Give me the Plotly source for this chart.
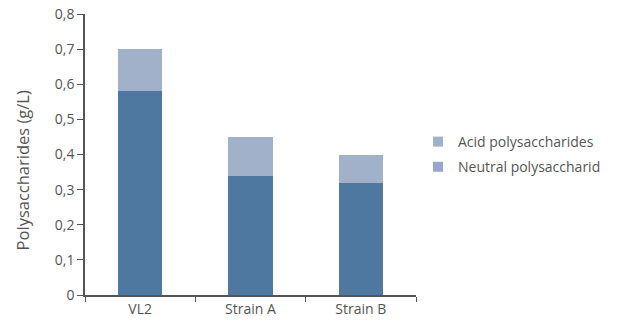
import plotly.graph_objects as go

categories = ["VL2", "Strain A", "Strain B"]
neutral = [0.58, 0.34, 0.32]
acid = [0.12, 0.11, 0.08]
series_names = ["Acid polysaccharides", "Neutral polysaccharid"]
y_title = "Polysaccharides (g/L)"

DARK = "#4e78a0"
LIGHT = "#a1b1c9"
LEG_NEUTRAL = "#9aa4d2"
FONT = "Open Sans"
TXT = "#555555"

fig = go.Figure()
fig.add_trace(go.Bar(x=categories, y=neutral, marker=dict(color=DARK, line=dict(width=0)),
                     width=0.4, showlegend=False))
fig.add_trace(go.Bar(x=categories, y=acid, marker=dict(color=LIGHT, line=dict(width=0)),
                     width=0.4, showlegend=False))
# legend entries
fig.add_trace(go.Scatter(x=[None], y=[None], mode="markers", name=series_names[0],
                         marker=dict(symbol="square", size=10, color=LIGHT), legendgroup="a"))
fig.add_trace(go.Scatter(x=[None], y=[None], mode="markers", name=series_names[1],
                         marker=dict(symbol="square", size=10, color=LEG_NEUTRAL), legendgroup="b"))

fig.update_layout(
    width=618, height=331,
    barmode="stack",
    separators=", ",
    paper_bgcolor="white", plot_bgcolor="white",
    margin=dict(l=85, r=189, t=14, b=36),
    font=dict(family=FONT, size=14, color=TXT),
    legend=dict(x=1.006, y=0.50, xanchor="left", yanchor="middle",
                traceorder="grouped", tracegroupgap=4,
                font=dict(size=14, color=TXT), itemwidth=30),
    annotations=[dict(text=y_title, textangle=-90, xref="paper", yref="paper",
                      x=-0.186, y=0.445, xanchor="center", yanchor="middle",
                      showarrow=False, font=dict(size=16.5, color=TXT))],
)
fig.update_xaxes(
    automargin=False,
    showline=True, linecolor="#555555", linewidth=1.5,
    ticks="outside", ticklen=5, tickcolor="#555555", tickson="boundaries",
    showgrid=False, tickfont=dict(size=14, color=TXT),
)
fig.update_yaxes(
    automargin=False, ticklabeloverflow="allow",
    range=[0, 0.8], dtick=0.1, tick0=0,
    showline=True, linecolor="#555555", linewidth=1.5,
    ticks="outside", ticklen=6, tickcolor="#555555",
    showgrid=False, zeroline=False, tickfont=dict(size=14, color=TXT),
)
fig.write_html("out.html", config={"displayModeBar": False},
               post_script="document.body.style.margin='0';")
